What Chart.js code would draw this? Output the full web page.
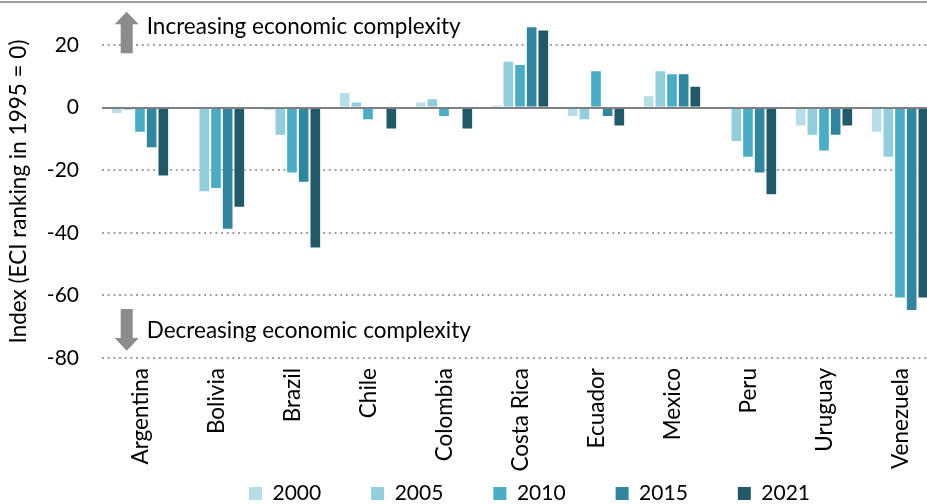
<!DOCTYPE html>
<html><head><meta charset="utf-8">
<script src="https://cdn.jsdelivr.net/npm/chart.js@4.4.1/dist/chart.umd.min.js"></script>
<style>
html,body{margin:0;padding:0;background:#fff;overflow:hidden;}
#wrap{position:relative;width:927px;height:504px;overflow:hidden;background:#fff;}
#topline{position:absolute;left:0;top:1px;width:927px;height:2px;background:#a0a0a0;z-index:2}
canvas{position:absolute;left:0;top:0;}
</style></head><body>
<div id="wrap"><canvas id="c" width="1059" height="514" style="width:1059px;height:514px"></canvas><div id="topline"></div></div>
<script>
const categories = ['Argentina','Bolivia','Brazil','Chile','Colombia','Costa Rica','Ecuador','Mexico','Peru','Uruguay','Venezuela'];
const years = ['2000','2005','2010','2015','2021'];
const v2000 = [-2, 0, -1, 5, 2, 1, -3, 4, 0, -6, -8];
const v2005 = [-1, -27, -9, 2, 3, 15, -4, 12, -11, -9, -16];
const v2010 = [-8, -26, -21, -4, -3, 14, 12, 11, -16, -14, -61];
const v2015 = [-13, -39, -24, 0, 0, 26, -3, 11, -21, -9, -65];
const v2021 = [-22, -32, -45, -7, -7, 25, -6, 7, -28, -6, -61];
const yTicks = [-80, -60, -40, -20, 0, 20];
const yAxisTitle = 'Index (ECI ranking in 1995 = 0)';
const upNote = 'Increasing economic complexity';
const downNote = 'Decreasing economic complexity';

const colors = ['#B7DEE8', '#92CDDC', '#4BACC6', '#31859C', '#215968'];
const seriesValues = [v2000, v2005, v2010, v2015, v2021];
const FONT = 'Lato';
const TEXT_SIZE = 22.5;
const NUM_SIZE = 21;

// annotation arrows in data units
const arrows = [
  {from: 17.4, base: 26.7, tip: 30.7},
  {from: -64.3, base: -73.6, tip: -77.7}
];
const notes = [
  {text: upNote, value: 23.5},
  {text: downNote, value: -73.7}
];

const overlay = {
  id: 'overlay',
  afterDatasetsDraw(chart) {
    const {ctx, chartArea, scales} = chart;
    const y = scales.y;
    ctx.save();
    const y0 = Math.round(y.getPixelForValue(0));
    ctx.strokeStyle = '#7f7f7f';
    ctx.lineWidth = 2;
    ctx.beginPath();
    ctx.moveTo(chartArea.left, y0);
    ctx.lineTo(chartArea.right, y0);
    ctx.stroke();
    const cx = chartArea.left + 24.7;
    ctx.fillStyle = '#8c8c8c';
    arrows.forEach(a => {
      const pf = y.getPixelForValue(a.from), pb = y.getPixelForValue(a.base), pt = y.getPixelForValue(a.tip);
      ctx.beginPath();
      ctx.moveTo(cx - 6, pf);
      ctx.lineTo(cx - 6, pb);
      ctx.lineTo(cx - 12, pb);
      ctx.lineTo(cx, pt);
      ctx.lineTo(cx + 12, pb);
      ctx.lineTo(cx + 6, pb);
      ctx.lineTo(cx + 6, pf);
      ctx.closePath();
      ctx.fill();
    });
    ctx.fillStyle = '#000';
    ctx.font = TEXT_SIZE + 'px ' + FONT;
    ctx.textAlign = 'left';
    ctx.textBaseline = 'alphabetic';
    notes.forEach(n => {
      ctx.fillText(n.text, chartArea.left + 44.7, y.getPixelForValue(n.value));
    });
    ctx.restore();
  }
};

new Chart(document.getElementById('c'), {
  type: 'bar',
  data: {
    labels: categories,
    datasets: years.map((yr, i) => ({
      label: yr,
      data: seriesValues[i],
      backgroundColor: colors[i],
      borderColor: 'rgba(255,255,255,0.55)',
      borderWidth: 1,
      yAxisID: 'y',
      categoryPercentage: 0.767,
      barPercentage: 1.0
    }))
  },
  options: {
    responsive: false,
    animation: false,
    devicePixelRatio: 1,
    layout: {padding: {top: 2, left: 0, right: 0, bottom: 0}},
    plugins: {
      legend: {
        position: 'bottom',
        labels: {
          boxWidth: 13, boxHeight: 13, padding: 50,
          color: '#000',
          font: {family: FONT, size: NUM_SIZE},
          generateLabels: (chart) => Chart.defaults.plugins.legend.labels.generateLabels(chart).map(l => Object.assign(l, {lineWidth: 0, strokeStyle: 'rgba(0,0,0,0)'}))
        }
      },
      tooltip: {enabled: false}
    },
    scales: {
      x: {
        grid: {display: false},
        border: {display: false},
        ticks: {
          autoSkip: false, maxRotation: 90, minRotation: 90, mirror: true, padding: -10, labelOffset: 28,
          color: '#000', font: {family: FONT, size: TEXT_SIZE}
        },
        afterFit: (s) => { s.height = 75; s.paddingLeft = 0; s.paddingRight = 0; }
      },
      y: {
        min: -80, max: 33.78,
        position: 'left',
        afterBuildTicks: (s) => { s.ticks = yTicks.map(v => ({value: v})); },
        ticks: {color: '#000', padding: 23, font: {family: FONT, size: NUM_SIZE}},
        grid: {color: '#a0a0a0', lineWidth: 2, drawTicks: false},
        border: {display: false, dash: [2, 3.67]},
        title: {display: true, text: yAxisTitle + '    ', color: '#000', font: {family: FONT, size: TEXT_SIZE}, padding: {top: 5, bottom: 0}},
        afterFit: (s) => { s.width = 102; s.paddingTop = 0; s.paddingBottom = 0; }
      },
      yR: {
        position: 'right',
        display: true,
        grid: {display: false},
        border: {display: false},
        ticks: {display: false},
        afterFit: (s) => { s.width = 121; s.paddingTop = 0; s.paddingBottom = 0; }
      }
    }
  },
  plugins: [overlay]
});
</script>
</body></html>
